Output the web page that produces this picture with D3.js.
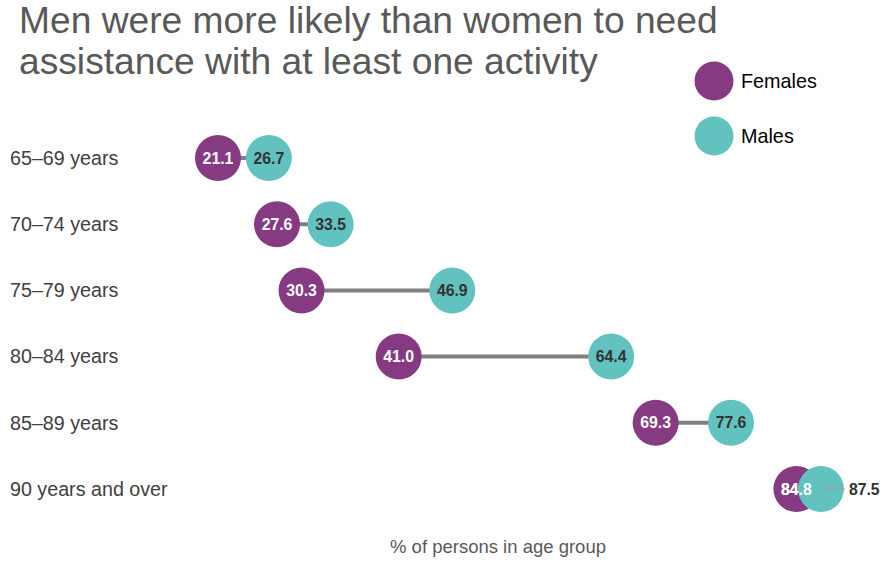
<!DOCTYPE html>
<html><head><meta charset="utf-8">
<script src="https://cdn.jsdelivr.net/npm/d3@7"></script>
<style>body{margin:0;background:#fff;}svg{display:block;}text{font-family:Arial,"Liberation Sans",Helvetica,sans-serif;}</style>
</head><body><svg id="c" width="884" height="561"></svg>
<script>
const categories = ["65\u201369 years","70\u201374 years","75\u201379 years","80\u201384 years","85\u201389 years","90 years and over"];
const females = [21.1, 27.6, 30.3, 41.0, 69.3, 84.8];
const males = [26.7, 33.5, 46.9, 64.4, 77.6, 87.5];
const seriesNames = ["Females","Males"];
const colors = ["#853a82","#62c2bf"];

const svg = d3.select("#c");
const x = d3.scaleLinear().domain([0,100]).range([26.4, 934.4]);
const y = d3.scalePoint().domain(categories).range([158, 489]);
const r = 23;

// title
const title = svg.append("text").attr("fill","#595959").style("font-size","37.2px");
title.append("tspan").attr("x",19).attr("y",33).text("Men were more likely than women to need");
title.append("tspan").attr("x",19).attr("y",74).text("assistance with at least one activity");

// category labels
svg.selectAll(".cat").data(categories).join("text")
  .attr("x",10).attr("y",d=>y(d)).attr("dy","0.35em")
  .attr("fill","#404040").style("font-size","19.7px").text(d=>d);

const rows = categories.map((c,i)=>({c, f:females[i], m:males[i]}));

// connectors
svg.selectAll(".conn").data(rows).join("line")
  .attr("x1",d=>x(d.f)).attr("x2",d=>x(d.m))
  .attr("y1",d=>y(d.c)).attr("y2",d=>y(d.c))
  .attr("stroke","#808080").attr("stroke-width",4);

const lblSize = "15.8px";
// female dots
svg.selectAll(".fd").data(rows).join("circle")
  .attr("cx",d=>x(d.f)).attr("cy",d=>y(d.c)).attr("r",r).attr("fill",colors[0]);
svg.selectAll(".fl").data(rows).join("text")
  .attr("x",d=>x(d.f)).attr("y",d=>y(d.c)).attr("dy","0.36em").attr("text-anchor","middle")
  .attr("fill","#fff").style("font-size",lblSize).style("font-weight","bold").text(d=>d.f.toFixed(1));

// male dots
svg.selectAll(".md").data(rows).join("circle")
  .attr("cx",d=>x(d.m)).attr("cy",d=>y(d.c)).attr("r",r).attr("fill",colors[1]);

const overlap = d => x(d.m) - x(d.f) < 2*r;
svg.selectAll(".lead").data(rows.filter(overlap)).join("line")
  .attr("x1",d=>x(d.m)).attr("x2",d=>x(d.m)+24)
  .attr("y1",d=>y(d.c)).attr("y2",d=>y(d.c))
  .attr("stroke","#a89a9a").attr("stroke-width",1);

svg.selectAll(".ml").data(rows).join("text")
  .attr("x",d=>overlap(d)? x(d.m)+28 : x(d.m))
  .attr("y",d=>y(d.c)).attr("dy","0.36em")
  .attr("text-anchor",d=>overlap(d)?"start":"middle")
  .attr("fill","#333").style("font-size",lblSize).style("font-weight","bold").text(d=>d.m.toFixed(1));

svg.selectAll(".fl2").data(rows.filter(overlap)).join("text")
  .attr("x",d=>x(d.f)).attr("y",d=>y(d.c)).attr("dy","0.36em").attr("text-anchor","middle")
  .attr("fill","#fff").style("font-size",lblSize).style("font-weight","bold").text(d=>d.f.toFixed(1));

// legend
const lg = svg.selectAll(".lg").data(seriesNames).join("g")
  .attr("transform",(d,i)=>`translate(714,${81+i*55})`);
lg.append("circle").attr("r",19.5).attr("fill",(d,i)=>colors[i]);
lg.append("text").attr("x",27).attr("dy","0.35em").attr("fill","#000").style("font-size","19.8px").text(d=>d);

svg.append("text").attr("x",498).attr("y",553).attr("text-anchor","middle")
  .attr("fill","#595959").style("font-size","18.5px").text("% of persons in age group");
</script></body></html>
